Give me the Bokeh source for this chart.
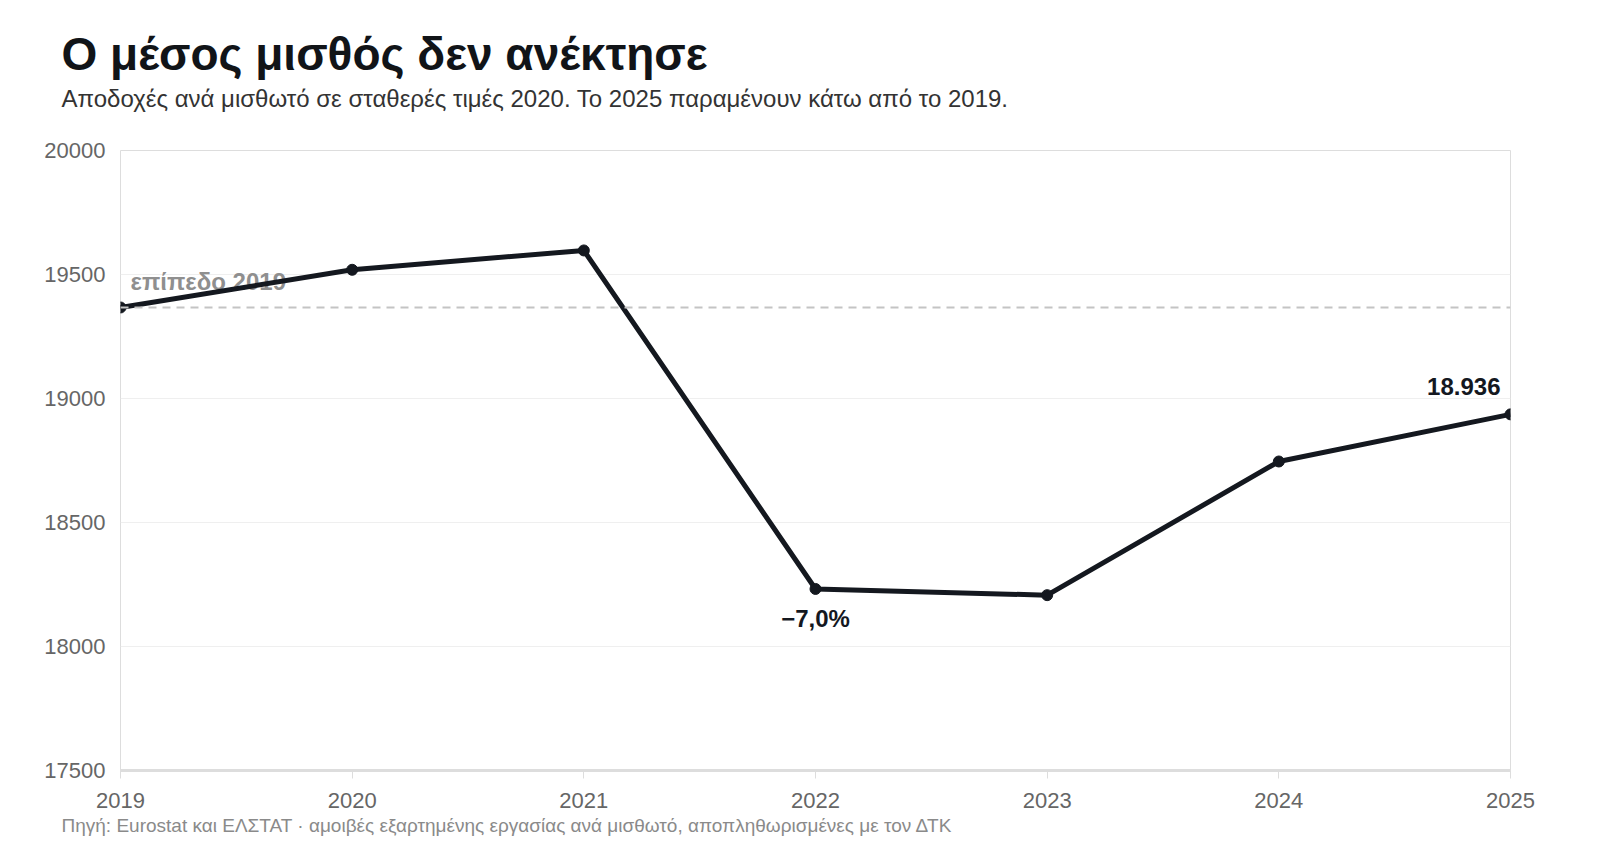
from bokeh.plotting import figure
from bokeh.models import Title, Label, Span, FixedTicker, Range1d, ColumnDataSource
from bokeh.core.properties import value
from bokeh.embed import file_html
from bokeh.resources import INLINE

# ---- data ----
years = [2019, 2020, 2021, 2022, 2023, 2024, 2025]
wages = [19367, 19519, 19597, 18232, 18207, 18746, 18936]
y_ticks = [17500, 18000, 18500, 19000, 19500, 20000]

title_text = "Ο μέσος μισθός δεν ανέκτησε"
subtitle_text = "Αποδοχές ανά μισθωτό σε σταθερές τιμές 2020. Το 2025 παραμένουν κάτω από το 2019."
source_text = "Πηγή: Eurostat και ΕΛΣΤΑΤ · αμοιβές εξαρτημένης εργασίας ανά μισθωτό, αποπληθωρισμένες με τον ΔΤΚ"
level_label = "επίπεδο 2019"

FONT = "Liberation Sans"
INK = "#14181f"

base_level = wages[0]
i_min = 3
drop = (wages[i_min] / max(wages[:i_min]) - 1) * 100
drop_text = ("−%.1f%%" % abs(drop)).replace(".", ",")
last_text = "{:,}".format(wages[-1]).replace(",", ".")

p = figure(
    frame_width=1390, frame_height=620,
    min_border_left=120, min_border_right=60,
    min_border_top=150, min_border_bottom=40,
    x_range=Range1d(years[0], years[-1]),
    y_range=Range1d(y_ticks[0], y_ticks[-1]),
    title=None,
    toolbar_location=None,
    output_backend="svg",
)
p.background_fill_color = "white"
p.border_fill_color = "white"
p.outline_line_color = "#dddddd"
p.outline_line_width = 1

# titles: spacer next to the frame, then subtitle, then main title
spacer = Title(text=" ", text_font=FONT, text_font_size="10px", standoff=25)
p.add_layout(spacer, "above")
sub = Title(text=subtitle_text, text_font=FONT, text_font_size="24px",
            text_font_style="normal", text_color="#333333", offset=-59,
            vertical_align="middle", standoff=0)
p.add_layout(sub, "above")
main = Title(text=title_text, text_font=FONT, text_font_size="46px",
             text_font_style="bold", text_color="#111418", offset=-59,
             vertical_align="middle", standoff=5)
p.add_layout(main, "above")
foot = Title(text=source_text, text_font=FONT, text_font_size="19px",
             text_font_style="normal", text_color="#8a8a8a", offset=-59, standoff=5)
p.add_layout(foot, "below")

# axes
p.xaxis.ticker = FixedTicker(ticks=years)
p.yaxis.ticker = FixedTicker(ticks=y_ticks)
for ax in (p.xaxis[0], p.yaxis[0]):
    ax.major_label_text_font = FONT
    ax.major_label_text_font_size = "22px"
    ax.major_label_text_color = "#666666"
    ax.minor_tick_line_color = None
p.xaxis.axis_line_color = "#dddddd"
p.xaxis.axis_line_width = 3
p.xaxis.major_tick_line_color = "#dddddd"
p.xaxis.major_tick_out = 8
p.xaxis.major_tick_in = 0
p.xaxis.major_label_standoff = 14
p.yaxis.axis_line_color = None
p.yaxis.major_tick_line_color = None
p.yaxis.major_tick_out = 0
p.yaxis.major_tick_in = 0
p.yaxis.major_label_standoff = 15

p.xgrid.grid_line_color = None
p.ygrid.grid_line_color = "#efefef"
p.ygrid.grid_line_width = 1

# reference level
p.add_layout(Span(location=base_level, dimension="width", line_color="#c4c4c4",
                  line_dash="8 6", line_width=2))
lvl_src = ColumnDataSource(dict(x=[years[0]], y=[base_level], t=[level_label]))
p.text(x="x", y="y", text="t", source=lvl_src, x_offset=10, y_offset=-26,
       text_font=value(FONT), text_font_size="24px", text_font_style="bold",
       text_color="#8f8f8f", text_baseline="middle", text_align="left")

# main series
src = ColumnDataSource(dict(x=years, y=wages))
p.line("x", "y", source=src, line_color=INK, line_width=5, line_join="round")
p.scatter("x", "y", source=src, size=11, color=INK)

# annotations
p.add_layout(Label(x=years[i_min], y=wages[i_min], text=drop_text, y_offset=-30,
                   text_font=FONT, text_font_size="24px", text_font_style="bold",
                   text_color=INK, text_align="center", text_baseline="middle"))
p.add_layout(Label(x=years[-1], y=wages[-1], text=last_text, x_offset=-10, y_offset=28,
                   text_font=FONT, text_font_size="24px", text_font_style="bold",
                   text_color=INK, text_align="right", text_baseline="middle"))

open("out.html", "w").write(file_html(p, INLINE))
